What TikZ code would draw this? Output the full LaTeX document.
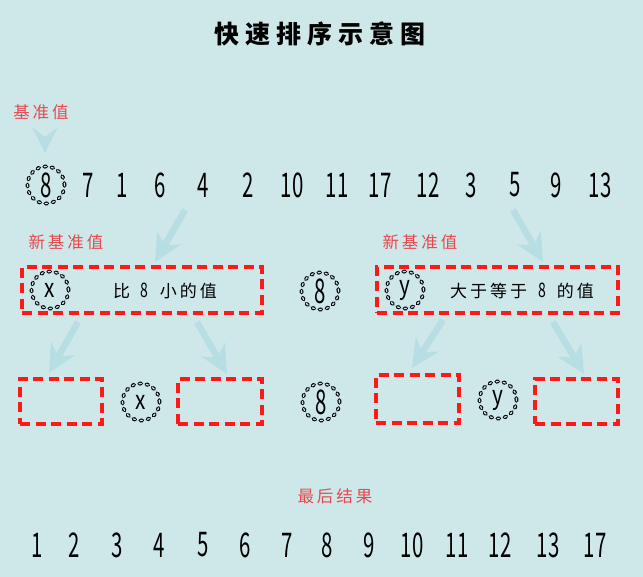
\documentclass[tikz,border=0pt]{standalone}
\usepackage{fontspec}
\setmainfont{Noto Sans CJK SC}
\usepackage{graphicx}
\usetikzlibrary{arrows.meta}
\definecolor{bgc}{RGB}{206,232,234}
\definecolor{arrc}{RGB}{182,222,227}
\definecolor{boxred}{RGB}{255,24,24}
\definecolor{labred}{RGB}{230,72,78}
\newcommand\dg[1]{\scalebox{0.6}[1]{\fontsize{34}{34}\selectfont #1}}
\newcommand\dgs[1]{\scalebox{0.7}[1]{\fontsize{20}{20}\selectfont #1}}
\newcommand\lt[1]{\scalebox{0.8}[1]{\fontsize{26}{26}\selectfont #1}}
\begin{document}
\begin{tikzpicture}[x=1pt,y=-1pt,
  lab/.style={text=labred, font=\fontsize{16.5}{16.5}\selectfont, inner sep=0pt},
  boxtxt/.style={font=\fontsize{17}{17}\selectfont, inner sep=0pt},
  numtxt/.style={inner sep=0pt},
  bead/.style={circle, minimum size=37pt, inner sep=0pt, draw=black, line width=1.25pt,
    double=bgc, double distance=1.3pt, dash pattern=on 2pt off 5.2pt, line cap=round},
  dbox/.style={rectangle, draw=boxred, line width=3.5pt, dash pattern=on 10pt off 5.5pt, inner sep=0pt},
  bigarrow/.style={draw=arrc, line width=6.5pt, -{Stealth[length=28pt,width=27pt,inset=9pt]}}
]
\fill[bgc] (0,0) rectangle (643,577);
\useasboundingbox (0,0) rectangle (643,577);

% title
\node[font=\fontsize{25}{25}\selectfont\bfseries, inner sep=0pt] (title) at (320,34)
  {快\hspace{6pt}速\hspace{6pt}排\hspace{6pt}序\hspace{6pt}示\hspace{6pt}意\hspace{6pt}图};

% pivot label
\node[lab] (jz) at (41,112) {基\hspace{3pt}准\hspace{3pt}值};
\fill[arrc] (32,127) -- (45,137) -- (58,127) -- (45,153) -- cycle;

% first row
\node[bead] (p0) at (46,185) {\dg{8}};
\foreach \xx/\vv [count=\i] in {88/7,122/1,160/6,203/4,248/2,292/10,337/11,380/17,428/12,471/3,515/5,556/9,600/13}
  \node[numtxt] (n\i) at (\xx,185) {\dg{\vv}};

% first partition
\coordinate (a1s) at (185,210);
\coordinate (a2s) at (513,210);
\node[lab] (nj1) at (66,242) {新\hspace{3pt}基\hspace{3pt}准\hspace{3pt}值};
\node[lab] (nj2) at (420,242) {新\hspace{3pt}基\hspace{3pt}准\hspace{3pt}值};
\node[dbox, minimum width=240pt, minimum height=46pt] (B1) at (142,290) {};
\node[dbox, minimum width=241pt, minimum height=46pt] (B2) at (497.5,290) {};
\node[bead] (cx1) at (50,290) {\lt{x}};
\node[bead] (c8a) at (320,291) {\dg{8}};
\node[bead] (cy1) at (405,290) {\lt{y}};
\node[boxtxt] (t1) at (165,291) {比\hspace{10pt}\dgs{8}\hspace{12pt}小\hspace{3pt}的\hspace{3pt}值};
\node[boxtxt] (t2) at (522,291) {大\hspace{3pt}于\hspace{3pt}等\hspace{3pt}于\hspace{11pt}\dgs{8}\hspace{11pt}的\hspace{3pt}值};
\coordinate (a1e) at (155,262);
\coordinate (a2e) at (543,262);
\draw[bigarrow] (a1s) -- (a1e);
\draw[bigarrow] (a2s) -- (a2e);

% second partition
\node[dbox, minimum width=82pt, minimum height=45pt] (L1) at (61,401.5) {};
\node[dbox, minimum width=84pt, minimum height=45pt] (L2) at (220,401.5) {};
\node[dbox, minimum width=83pt, minimum height=48pt] (R1) at (417.5,399) {};
\node[dbox, minimum width=83pt, minimum height=45pt] (R2) at (576.5,401.5) {};
\node[bead] (cx2) at (141,402) {\lt{x}};
\node[bead] (c8b) at (321,402) {\dg{8}};
\node[bead] (cy2) at (498,400) {\lt{y}};
\coordinate (a3s) at (78,322);   \coordinate (a3e) at (49,373);
\coordinate (a4s) at (197,322);  \coordinate (a4e) at (227,374);
\coordinate (a5s) at (443,320);  \coordinate (a5e) at (412,368);
\coordinate (a6s) at (553,322);  \coordinate (a6e) at (584,374);
\draw[bigarrow] (a3s) -- (a3e);
\draw[bigarrow] (a4s) -- (a4e);
\draw[bigarrow] (a5s) -- (a5e);
\draw[bigarrow] (a6s) -- (a6e);

% result
\node[lab] (res) at (335,496) {最\hspace{3pt}后\hspace{3pt}结\hspace{3pt}果};
\foreach \xx/\vv [count=\i] in {37/1,74/2,117/3,159/4,203/5,245/6,287/7,327/8,369/9,412/10,457/11,500/12,548/13,595/17}
  \node[numtxt] (r\i) at (\xx,545) {\dg{\vv}};
\end{tikzpicture}
\end{document}
